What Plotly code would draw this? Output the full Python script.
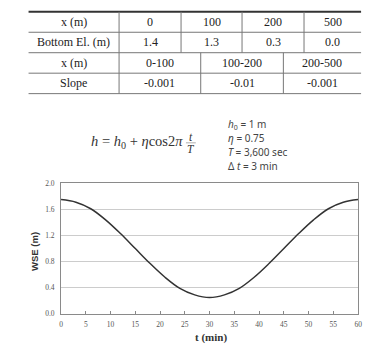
import plotly.graph_objects as go

# ---- data ----
t_min = [0, 3, 6, 9, 12, 15, 18, 21, 24, 27, 30, 33, 36, 39, 42, 45, 48, 51, 54, 57, 60]
wse_m = [1.75, 1.71, 1.61, 1.44, 1.23, 1.00, 0.77, 0.56, 0.39, 0.29, 0.25,
         0.29, 0.39, 0.56, 0.77, 1.00, 1.23, 1.44, 1.61, 1.71, 1.75]

x_points = ["0", "100", "200", "500"]
bottom_el = ["1.4", "1.3", "0.3", "0.0"]
x_ranges = ["0-100", "100-200", "200-500"]
slopes = ["-0.001", "-0.01", "-0.001"]

y_ticks = [0.0, 0.4, 0.8, 1.2, 1.6, 2.0]
x_ticks = list(range(0, 61, 5))

params = ["<i>h</i><sub>0</sub> = 1 m", "<i>η</i> = 0.75",
          "<i>T</i> = 3,600 sec", "Δ <i>t</i> = 3 min"]

W, H = 370, 350


def px(x):
    return x / W


def py(y):
    return 1 - y / H


fig = go.Figure()
fig.add_trace(go.Scatter(x=t_min, y=wse_m, mode="lines",
                         line=dict(color="#333333", width=1.5, shape="spline"),
                         showlegend=False, hoverinfo="skip"))

shapes = []
annos = []

# ---- table ----
tl, tr = 27, 365
row_y = [8, 29, 50, 71, 92]
serif = "Liberation Serif, Times New Roman, serif"
for i, yy in enumerate(row_y):
    shapes.append(dict(type="line", xref="paper", yref="paper",
                       x0=px(tl), x1=px(tr), y0=py(yy), y1=py(yy),
                       line=dict(color="#333333" if i == 0 else "#777777",
                                 width=2 if i == 0 else 1)))
top_cols = [27, 119, 182, 244, 307, 365]
bot_cols = [27, 119, 202, 286, 365]
for xx in top_cols[1:-1]:
    shapes.append(dict(type="line", xref="paper", yref="paper",
                       x0=px(xx), x1=px(xx), y0=py(row_y[0]), y1=py(row_y[2]),
                       line=dict(color="#777777", width=1)))
for xx in bot_cols[1:-1]:
    shapes.append(dict(type="line", xref="paper", yref="paper",
                       x0=px(xx), x1=px(xx), y0=py(row_y[2]), y1=py(row_y[4]),
                       line=dict(color="#777777", width=1)))


def cell(text, c0, c1, r0, r1):
    annos.append(dict(text=text, xref="paper", yref="paper",
                      x=px((c0 + c1) / 2), y=py((r0 + r1) / 2),
                      showarrow=False, xanchor="center", yanchor="middle",
                      font=dict(family=serif, size=12, color="#222222")))


rows_top = [["x (m)"] + x_points, ["Bottom El. (m)"] + bottom_el]
for r, row in enumerate(rows_top):
    for c, txt in enumerate(row):
        cell(txt, top_cols[c], top_cols[c + 1], row_y[r], row_y[r + 1])
rows_bot = [["x (m)"] + x_ranges, ["Slope"] + slopes]
for r, row in enumerate(rows_bot):
    for c, txt in enumerate(row):
        cell(txt, bot_cols[c], bot_cols[c + 1], row_y[r + 2], row_y[r + 3])

# ---- equation ----
eqfont = dict(family=serif, size=14.5, color="#333333")
annos.append(dict(text="<i>h</i> = <i>h</i><sub>0</sub> + <i>η</i>cos2<i>π</i>",
                  xref="paper", yref="paper", x=px(186), y=py(142),
                  xanchor="right", yanchor="middle", showarrow=False, font=eqfont))
annos.append(dict(text="<i>t</i>", xref="paper", yref="paper", x=px(192), y=py(136),
                  xanchor="center", yanchor="middle", showarrow=False,
                  font=dict(family=serif, size=11.5, color="#333333")))
annos.append(dict(text="<i>T</i>", xref="paper", yref="paper", x=px(192), y=py(149),
                  xanchor="center", yanchor="middle", showarrow=False,
                  font=dict(family=serif, size=11.5, color="#333333")))
shapes.append(dict(type="line", xref="paper", yref="paper",
                   x0=px(187), x1=px(197), y0=py(142.5), y1=py(142.5),
                   line=dict(color="#999999", width=0.8)))

for i, p in enumerate(params):
    annos.append(dict(text=p, xref="paper", yref="paper", x=px(228),
                      y=py(124 + i * 14), xanchor="left", yanchor="middle",
                      showarrow=False,
                      font=dict(family="Noto Sans, sans-serif", size=10, color="#444444")))

# ---- axis titles ----
annos.append(dict(text="<b>WSE (m)</b>", xref="paper", yref="paper",
                  x=px(33), y=py(254), textangle=-90, showarrow=False,
                  xanchor="center", yanchor="middle",
                  font=dict(family="Liberation Sans, Arial, sans-serif", size=9.5, color="#333333")))
annos.append(dict(text="<b>t (min)</b>", xref="paper", yref="paper",
                  x=px(212), y=py(342), showarrow=False,
                  xanchor="center", yanchor="middle",
                  font=dict(family=serif, size=11, color="#333333")))

tickfont = dict(family="Liberation Serif, serif", size=7.5, color="#555555")
fig.update_layout(
    width=W, height=H, margin=dict(l=0, r=0, t=0, b=0),
    paper_bgcolor="white", plot_bgcolor="white",
    shapes=shapes, annotations=annos, showlegend=False,
    xaxis=dict(domain=[px(60), px(362)], range=[0, 60], tickvals=x_ticks,
               ticks="inside", ticklen=3, tickcolor="#888888",
               ticklabelstandoff=3,
               showgrid=False, zeroline=False, showline=True, mirror=True,
               linecolor="#8a8a8a", linewidth=1, tickfont=tickfont),
    yaxis=dict(domain=[py(318), py(184)], range=[0, 2.0], tickvals=y_ticks,
               tickformat=".1f", ticks="", ticklabelstandoff=4,
               showgrid=True, gridcolor="#cccccc",
               gridwidth=1, zeroline=False, showline=True, mirror=True,
               linecolor="#8a8a8a", linewidth=1, tickfont=tickfont),
)

fig.write_html("out.html")
